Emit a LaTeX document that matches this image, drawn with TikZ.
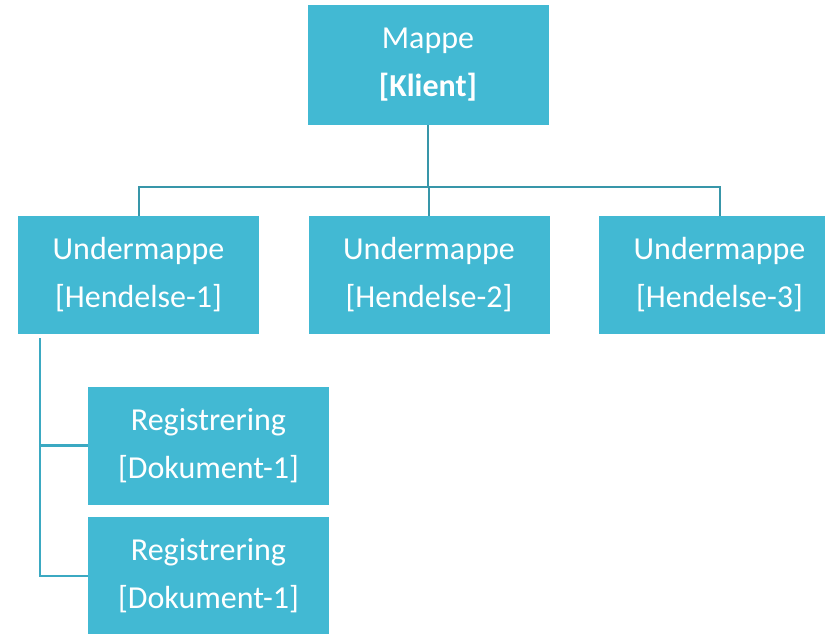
\documentclass[tikz,border=0pt]{standalone}
\usepackage{fontspec}
\setmainfont{Carlito}
\definecolor{boxblue}{HTML}{42B9D3}
\definecolor{linkteal}{HTML}{3896A9}
\definecolor{linkblue}{HTML}{3BA9C2}
\begin{document}
\begin{tikzpicture}[x=1pt, y=-1pt,
        folder/.style={fill=boxblue, text=white, minimum width=241pt, minimum height=118pt,
            align=center, inner sep=0pt, font=\fontsize{32}{48}\selectfont},
        link/.style={draw=linkteal, line width=2pt},
        leftlink/.style={draw=linkblue, line width=2.2pt}]
        \useasboundingbox (0, 0) rectangle (825, 633);
        \clip (0, 0) rectangle (825, 633);
        \node[folder, minimum height=120pt] (mappe) at (428, 65) {Mappe\\\textbf{[Klient]}};
        \node[folder] (hend1) at (138.5, 275) {Undermappe\\{}[Hendelse-1]};
        \node[folder] (hend2) at (429, 275) {Undermappe\\{}[Hendelse-2]};
        \node[folder] (hend3) at (719.5, 275) {Undermappe\\{}[Hendelse-3]};
        \node[folder] (reg1) at (208.5, 445.5) {Registrering\\{}[Dokument-1]};
        \node[folder] (reg2) at (208.5, 576) {Registrering\\{}[Dokument-1]};
        \coordinate (fork) at (428, 187);
        \coordinate (stem) at (40, 338);
        \draw[link] (mappe.south) -- (fork);
        \draw[link] (fork) -| (hend1.north);
        \draw[link] (fork) -| (hend3.north);
        \draw[link] (fork -| hend2.north) -- (hend2.north);
        \draw[leftlink] (stem) |- (reg2.west);
        \draw[leftlink] (stem |- reg1.west) -- (reg1.west);
    \end{tikzpicture}
\end{document}
